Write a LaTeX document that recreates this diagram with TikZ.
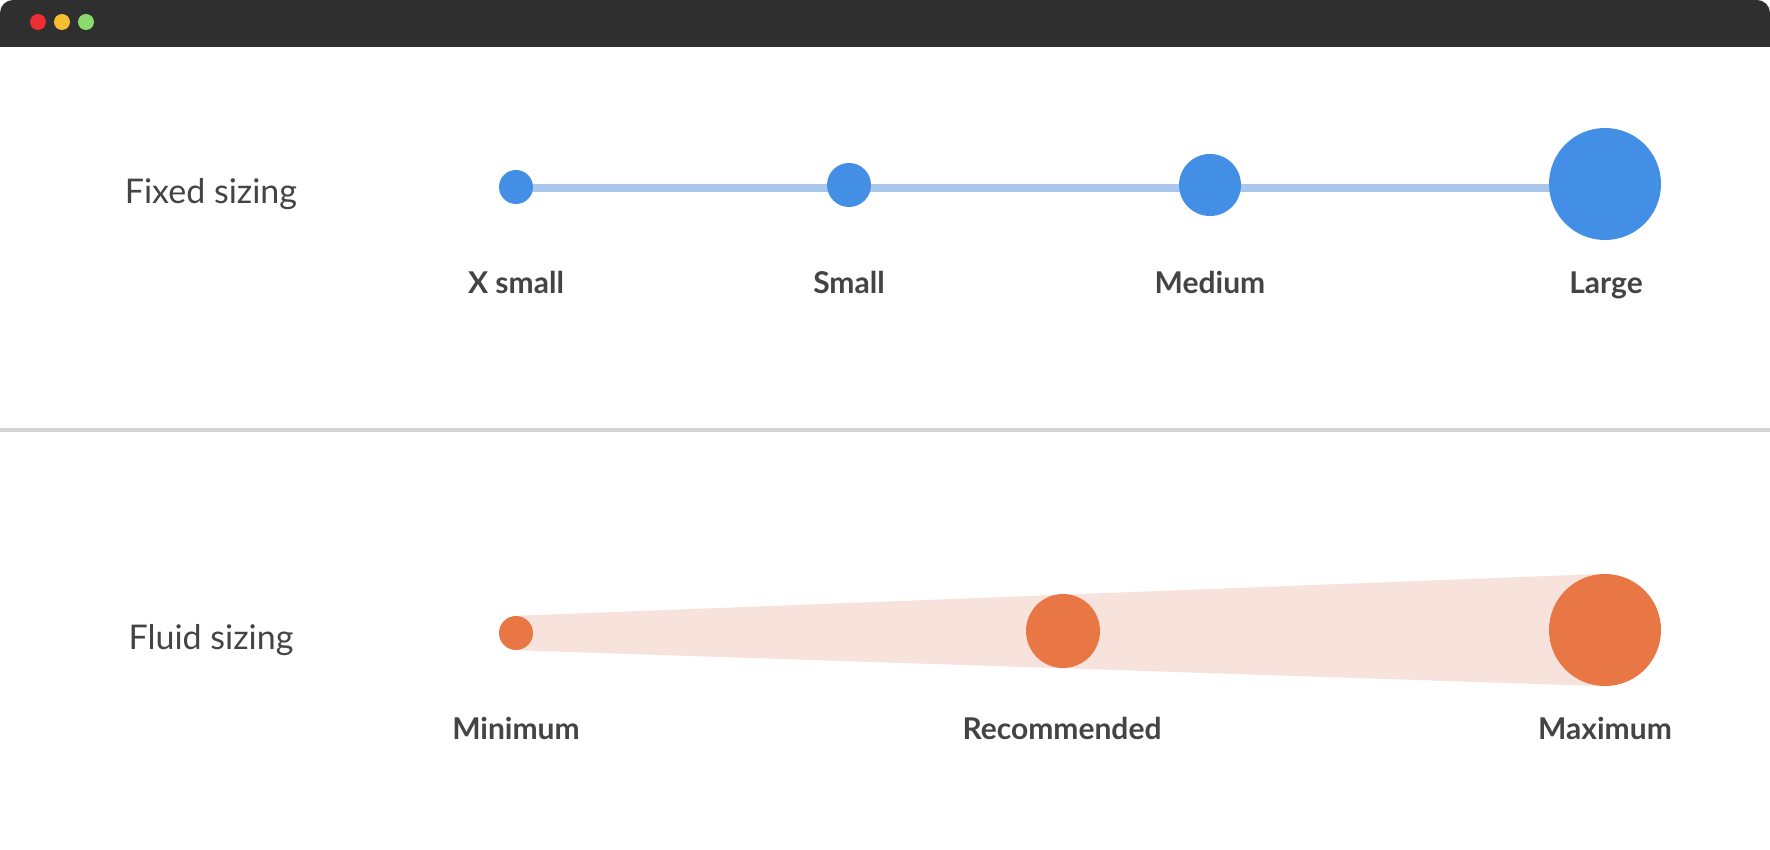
\documentclass[tikz,border=0pt]{standalone}
\usepackage{fontspec}
\setmainfont{Lato}
\usetikzlibrary{backgrounds}
\pgfdeclarelayer{bottom}
\pgfsetlayers{bottom,background,main}
\definecolor{barc}{HTML}{2F2F2F}
\definecolor{dotr}{HTML}{EC2E33}
\definecolor{doty}{HTML}{F5BE31}
\definecolor{dotg}{HTML}{8DDA6C}
\definecolor{bluec}{HTML}{448FE6}
\definecolor{bluel}{HTML}{A9C7EB}
\definecolor{orc}{HTML}{E87745}
\definecolor{orl}{HTML}{F7E3DC}
\definecolor{txt}{HTML}{444444}
\definecolor{divc}{HTML}{D4D4D4}
\tikzset{
  dotc/.style={circle,inner sep=0pt,minimum size=16pt},
  bdot/.style={circle,inner sep=0pt,fill=bluec,minimum size=#1},
  odot/.style={circle,inner sep=0pt,fill=orc,minimum size=#1},
  rowlabel/.style={anchor=base,text=txt,font=\fontsize{34}{38}\selectfont},
  sizelabel/.style={anchor=base,text=txt,font=\fontsize{30}{34}\selectfont\bfseries},
}
\begin{document}
\begin{tikzpicture}[x=1pt,y=-1pt]
\useasboundingbox (0,0) rectangle (1770,850);
\begin{pgfonlayer}{bottom}
\fill[white] (0,0) rectangle (1770,850);
\end{pgfonlayer}
% title bar
\fill[barc] (0,47) {[rounded corners=13pt] -- (0,0) -- (1770,0)} -- (1770,47) -- cycle;
\node[dotc,fill=dotr] (red) at (38,22) {};
\node[dotc,fill=doty] (yel) at (62,22) {};
\node[dotc,fill=dotg] (grn) at (86,22) {};
% divider
\fill[divc] (0,428) rectangle (1770,432);
% fixed sizing
\node[rowlabel] (fixed) at (211,204) {Fixed sizing};
\node[bdot=34pt] (xs) at (516,187) {};
\node[bdot=44pt] (sm) at (849,185) {};
\node[bdot=62pt] (md) at (1210,185) {};
\node[bdot=112pt] (lg) at (1605,184) {};
\begin{pgfonlayer}{background}
\draw[bluel,line width=8pt] (xs.center |- 0,188) -- (lg.center |- 0,188);
\end{pgfonlayer}
\node[sizelabel] (lxs) at (516,294) {X small};
\node[sizelabel] (lsm) at (849,294) {Small};
\node[sizelabel] (lmd) at (1210,294) {Medium};
\node[sizelabel] (llg) at (1606,294) {Large};
% fluid sizing
\node[rowlabel] (fluid) at (211,649) {Fluid sizing};
\node[odot=34pt] (mn) at (516,633) {};
\node[odot=74pt] (rc) at (1063,631) {};
\node[odot=112pt] (mx) at (1605,630) {};
\begin{pgfonlayer}{background}
\fill[orl] (mn.north) -- (mx.north) -- (mx.south) -- (mn.south) -- cycle;
\end{pgfonlayer}
\node[sizelabel] (lmn) at (516,739) {Minimum};
\node[sizelabel] (lrc) at (1062,739) {Recommended};
\node[sizelabel] (lmx) at (1605,739) {Maximum};
\end{tikzpicture}
\end{document}
